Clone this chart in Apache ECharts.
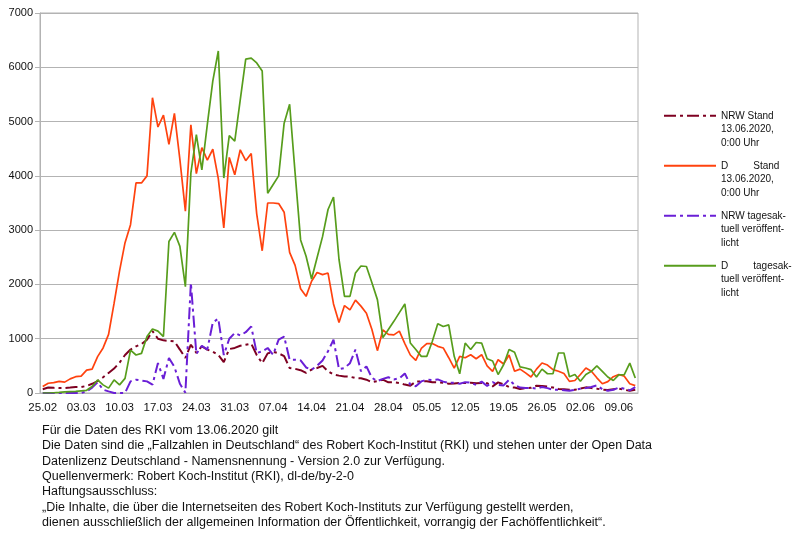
<!DOCTYPE html>
<html><head><meta charset="utf-8">
<script src="https://cdn.jsdelivr.net/npm/echarts@6/dist/echarts.min.js"></script>
<style>html,body{margin:0;padding:0;background:#fff}#c{width:800px;height:540px}</style>
</head><body><div id="c"></div>
<script>
const categories = [
'25.02','26.02','27.02','28.02','29.02',
'01.03','02.03','03.03','04.03','05.03','06.03','07.03','08.03','09.03','10.03','11.03','12.03','13.03','14.03','15.03','16.03','17.03','18.03','19.03','20.03','21.03','22.03','23.03','24.03','25.03','26.03','27.03','28.03','29.03','30.03','31.03',
'01.04','02.04','03.04','04.04','05.04','06.04','07.04','08.04','09.04','10.04','11.04','12.04','13.04','14.04','15.04','16.04','17.04','18.04','19.04','20.04','21.04','22.04','23.04','24.04','25.04','26.04','27.04','28.04','29.04','30.04',
'01.05','02.05','03.05','04.05','05.05','06.05','07.05','08.05','09.05','10.05','11.05','12.05','13.05','14.05','15.05','16.05','17.05','18.05','19.05','20.05','21.05','22.05','23.05','24.05','25.05','26.05','27.05','28.05','29.05','30.05','31.05',
'01.06','02.06','03.06','04.06','05.06','06.06','07.06','08.06','09.06','10.06','11.06','12.06'
];
const nrwStand = [70,100,95,90,92,100,110,110,130,170,220,290,370,450,560,700,800,860,900,980,1140,1000,970,960,950,800,645,890,740,860,800,760,700,570,810,830,870,890,910,700,550,730,760,730,680,460,445,420,370,430,460,500,400,340,320,305,300,275,270,245,200,220,245,196,200,185,155,135,210,215,215,200,196,190,172,175,185,185,190,180,184,180,122,196,160,110,100,74,90,95,134,130,120,100,74,70,61,60,80,104,90,80,61,55,70,80,60,40,60];
const dStand = [120,180,190,214,200,260,300,310,420,440,670,830,1080,1650,2250,2770,3100,3870,3870,4000,5440,4900,5120,4580,5150,4300,3350,4940,4040,4520,4290,4490,3950,3040,4340,4020,4480,4280,4410,3300,2620,3500,3500,3490,3330,2590,2350,1920,1780,2060,2220,2180,2210,1640,1300,1610,1530,1710,1600,1470,1170,780,1160,1080,1070,1140,910,700,600,820,910,910,860,830,650,460,675,650,705,630,705,500,400,613,534,700,400,440,370,295,440,552,515,430,400,360,214,230,340,460,400,280,170,210,300,340,310,170,135];
const nrwTag = [0,0,0,0,0,0,0,0,30,100,196,61,30,0,0,0,214,245,230,214,153,552,260,645,480,170,5,2026,720,870,800,1300,1370,700,1000,1105,1060,1120,1227,737,767,829,705,982,1040,613,613,600,470,430,500,600,770,980,440,460,550,800,400,490,280,220,260,290,250,270,360,153,123,214,245,240,250,210,185,190,170,200,190,150,210,130,200,150,140,245,150,100,90,95,80,110,90,60,60,50,40,60,80,90,110,140,70,40,60,100,80,50,110];
const dTag = [0,0,5,10,20,25,30,40,50,120,240,150,90,240,150,270,790,700,730,1040,1180,1140,1040,2790,2960,2700,1960,4050,4760,4110,4950,5750,6300,3960,4740,4640,5400,6150,6170,6080,5930,3680,3840,4000,4970,5320,4050,2820,2520,2100,2490,2880,3380,3610,2460,1780,1780,2210,2340,2330,2030,1720,1020,1170,1320,1480,1640,920,800,675,675,950,1275,1225,1255,675,355,920,800,930,920,630,590,340,520,800,750,480,460,430,295,440,355,355,737,737,300,340,215,340,400,500,400,295,230,335,340,550,275];
const seriesNames = ['NRW Stand\n13.06.2020,\n0:00 Uhr','D         Stand\n13.06.2020,\n0:00 Uhr','NRW tagesak-\ntuell veröffent-\nlicht','D         tagesak-\ntuell veröffent-\nlicht'];
const footText = [
'Für die Daten des RKI vom 13.06.2020 gilt',
'Die Daten sind die „Fallzahlen in Deutschland“ des Robert Koch-Institut (RKI) und stehen unter der Open Data',
'Datenlizenz Deutschland - Namensnennung - Version 2.0 zur Verfügung.',
'Quellenvermerk: Robert Koch-Institut (RKI), dl-de/by-2-0',
'Haftungsausschluss:',
'„Die Inhalte, die über die Internetseiten des Robert Koch-Instituts zur Verfügung gestellt werden,',
'dienen ausschließlich der allgemeinen Information der Öffentlichkeit, vorrangig der Fachöffentlichkeit“.'
];
const FONT = '"Liberation Sans", Arial, sans-serif';
const gridColor = '#b3b3b3';
const chart = echarts.init(document.getElementById('c'), null, {renderer: 'canvas'});
const dashDot = [12, 4, 3, 4];
function mk(name, data, color, dashed) {
  return {
    name: name, type: 'line', data: data, symbol: 'none', animation: false,
    lineStyle: {color: color, width: dashed ? 2 : 1.7, type: dashed ? dashDot : 'solid'},
    itemStyle: {color: color}
  };
}
chart.setOption({
  backgroundColor: '#fff',
  animation: false,
  textStyle: {fontFamily: FONT},
  title: {
    text: footText.join('\n'), left: 42, top: 423, padding: 0,
    textStyle: {fontSize: 12.5, fontWeight: 'normal', lineHeight: 15.3, color: '#111', fontFamily: FONT}
  },
  grid: {left: 40, right: 162, top: 13, bottom: 147, show: true, borderColor: gridColor, borderWidth: 1, containLabel: false},
  legend: {
    orient: 'vertical', left: 663, top: 82, padding: 0,
    itemWidth: 52, itemHeight: 10, itemGap: -17.5,
    itemStyle: {opacity: 0, borderWidth: 0},
    formatter: function (n) { return '\n\n' + n; },
    textStyle: {fontSize: 10, lineHeight: 13.5, color: '#111', fontFamily: FONT},
    data: seriesNames
  },
  xAxis: {
    type: 'category', data: categories, boundaryGap: true,
    axisLine: {lineStyle: {color: gridColor}},
    axisTick: {interval: 6, length: 5, lineStyle: {color: gridColor}},
    axisLabel: {interval: 6, fontSize: 11.5, color: '#111', margin: 9, fontFamily: FONT},
    splitLine: {show: false}
  },
  yAxis: {
    type: 'value', min: 0, max: 7000, interval: 1000,
    axisLine: {show: true, lineStyle: {color: gridColor}},
    axisTick: {show: true, length: 5, lineStyle: {color: gridColor}},
    axisLabel: {fontSize: 11, color: '#111', margin: 7, fontFamily: FONT, formatter: function (v) { return String(v); }},
    splitLine: {lineStyle: {color: gridColor}}
  },
  series: [
    mk(seriesNames[0], nrwStand, '#7e0021', true),
    mk(seriesNames[1], dStand, '#ff420e', false),
    mk(seriesNames[2], nrwTag, '#6a1fd6', true),
    mk(seriesNames[3], dTag, '#579d1c', false)
  ]
});
</script></body></html>
